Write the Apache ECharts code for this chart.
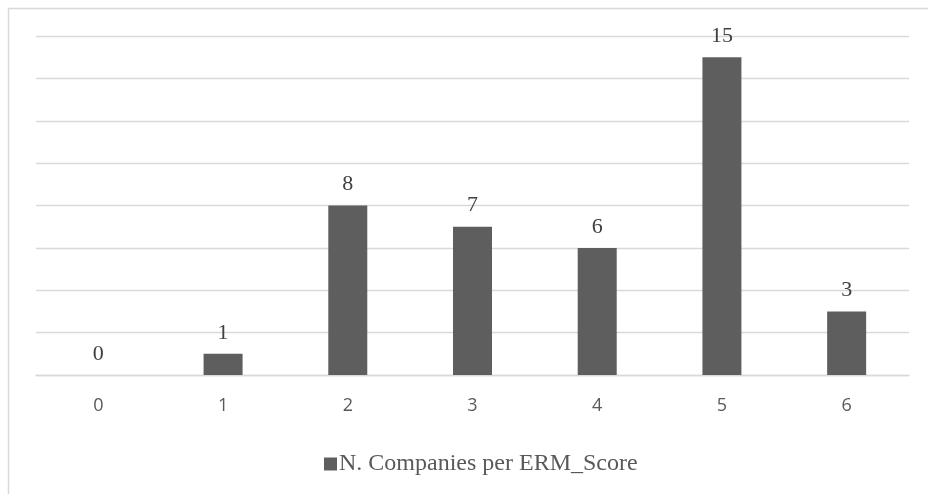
<!DOCTYPE html>
<html>
<head>
<meta charset="utf-8">
<script src="https://cdn.jsdelivr.net/npm/echarts@6/dist/echarts.min.js"></script>
<style>
  html, body { margin: 0; padding: 0; background: #fff; }
  #main { width: 928px; height: 494px; }
</style>
</head>
<body>
<div id="main"></div>
<script>
// ERM score categories and company counts
const scores = ["0", "1", "2", "3", "4", "5", "6"];
const companies = [0, 1, 8, 7, 6, 15, 3];
const seriesName = "N. Companies per ERM_Score";

let myChart = echarts.init(document.getElementById("main"));

let option = {
  animation: false,
  backgroundColor: "#fff",
  graphic: [
    {
      type: "rect",
      left: 6,
      top: 6,
      shape: { width: 960, height: 520 },
      style: { fill: "none", stroke: "#d9d9d9", lineWidth: 1.5 },
      silent: true
    }
  ],
  grid: { left: 36, right: 19, top: 36, bottom: 119 },
  legend: {
    data: [seriesName],
    top: 447,
    left: 319,
    itemWidth: 13,
    itemHeight: 13,
    itemGap: 4,
    icon: "rect",
    textStyle: {
      fontFamily: "Liberation Serif",
      fontSize: 24,
      color: "#595959",
      padding: [0, 0, 0, -3]
    }
  },
  xAxis: {
    type: "category",
    data: scores,
    axisLine: { lineStyle: { color: "#d9d9d9", width: 1.3 } },
    axisTick: { show: false },
    axisLabel: {
      fontFamily: "Open Sans",
      fontSize: 18,
      color: "#595959",
      margin: 22
    }
  },
  yAxis: {
    type: "value",
    min: 0,
    max: 16,
    interval: 2,
    axisLabel: { show: false },
    axisLine: { show: false },
    axisTick: { show: false },
    splitLine: { lineStyle: { color: "#d9d9d9", width: 1.3 } }
  },
  series: [
    {
      name: seriesName,
      type: "bar",
      data: companies,
      barWidth: 39,
      itemStyle: { color: "#5e5e5e" },
      label: {
        show: true,
        position: "top",
        distance: 10,
        fontFamily: "Liberation Serif",
        fontSize: 22,
        color: "#404040"
      }
    }
  ]
};

myChart.setOption(option);
</script>
</body>
</html>
